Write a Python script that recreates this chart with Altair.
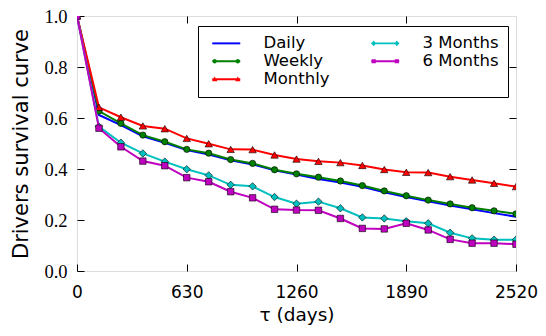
import altair as alt
import pandas as pd

# ---- data ----
days = [0, 126, 252, 378, 504, 630, 756, 882, 1008, 1134, 1260,
        1386, 1512, 1638, 1764, 1890, 2016, 2142, 2268, 2394, 2520]
daily = [1.0, 0.612, 0.572, 0.528, 0.503, 0.474, 0.457, 0.434, 0.418, 0.395, 0.378,
         0.361, 0.347, 0.330, 0.309, 0.290, 0.273, 0.257, 0.242, 0.227, 0.213]
weekly = [1.0, 0.627, 0.579, 0.533, 0.507, 0.477, 0.462, 0.437, 0.422, 0.397, 0.381,
          0.368, 0.353, 0.335, 0.314, 0.295, 0.278, 0.263, 0.248, 0.236, 0.224]
monthly = [1.0, 0.642, 0.603, 0.569, 0.558, 0.520, 0.499, 0.477, 0.476, 0.455, 0.439,
           0.430, 0.425, 0.414, 0.398, 0.387, 0.386, 0.370, 0.357, 0.344, 0.331]
three_months = [1.0, 0.566, 0.503, 0.461, 0.429, 0.399, 0.375, 0.338, 0.332, 0.290, 0.264,
                0.272, 0.246, 0.210, 0.206, 0.195, 0.187, 0.150, 0.128, 0.123, 0.123]
six_months = [1.0, 0.560, 0.487, 0.431, 0.413, 0.366, 0.350, 0.311, 0.287, 0.242, 0.239,
              0.238, 0.206, 0.167, 0.165, 0.187, 0.161, 0.124, 0.109, 0.109, 0.105]

series_names = ["Daily", "Weekly", "Monthly", "3 Months", "6 Months"]
series_y = [daily, weekly, monthly, three_months, six_months]
series_colors = ["#0000ff", "#008000", "#ff0000", "#00bfbf", "#bf00bf"]
series_shapes = [None, "circle", "triangle-up", "diamond", "square"]
series_sizes = [0, 40, 55, 55, 42]

x_ticks = [0, 630, 1260, 1890, 2520]
y_ticks = [0.0, 0.2, 0.4, 0.6, 0.8, 1.0]


# legend glyphs: line segment with small markers at both ends
def bar():
    return "M-1,-0.14L3,-0.14L3,0.14L-1,0.14Z"


def circ(cx, r=0.32):
    return f"M{cx-r},0A{r},{r} 0 1,1 {cx+r},0A{r},{r} 0 1,1 {cx-r},0Z"


def tri(cx):
    return f"M{cx},-0.38L{cx+0.38},0.3L{cx-0.38},0.3Z"


def dia(cx):
    return f"M{cx},-0.42L{cx+0.34},0L{cx},0.42L{cx-0.34},0Z"


def sq(cx):
    return f"M{cx-0.3},-0.3L{cx+0.3},-0.3L{cx+0.3},0.3L{cx-0.3},0.3Z"


ends = (-0.65, 2.65)
glyph = {
    "Daily": bar(),
    "Weekly": bar() + circ(ends[0]) + circ(ends[1]),
    "Monthly": bar() + tri(ends[0]) + tri(ends[1]),
    "3 Months": bar() + dia(ends[0]) + dia(ends[1]),
    "6 Months": bar() + sq(ends[0]) + sq(ends[1]),
}

frames = []
for name, ys in zip(series_names, series_y):
    frames.append(pd.DataFrame({"day": days, "value": ys, "series": name}))
all_df = pd.concat(frames, ignore_index=True)

x_scale = alt.Scale(domain=[0, 2520], nice=False, zero=False)
y_scale = alt.Scale(domain=[0, 1], nice=False, zero=False)

x_axis_bottom = alt.Axis(
    values=x_ticks, format="d", orient="bottom", offset=-7, tickSize=7, domain=False,
    grid=False, labelFont="DejaVu Sans", labelFontSize=17, labelPadding=13,
    labelColor="black", labelFlush=False, labelOverlap=False, tickColor="black",
    tickWidth=1, title="τ (days)", titleFont="DejaVu Sans", titleFontSize=18.5,
    titleFontWeight="normal", titleColor="black", titlePadding=5,
)
y_axis_left = alt.Axis(
    values=y_ticks, format=".1f", orient="left", offset=-7, tickSize=7, domain=False,
    grid=False, labelFont="Liberation Serif", labelFontSize=18.5, labelPadding=10,
    labelColor="black", labelFlush=False, labelOverlap=False, tickColor="black",
    tickWidth=1, title="Drivers survival curve", titleFont="DejaVu Sans",
    titleFontSize=21, titleFontWeight="normal", titleColor="black", titlePadding=12,
)
x_axis_top = alt.Axis(
    values=x_ticks[1:-1], orient="top", offset=-7, tickSize=7, domain=False, grid=False,
    labels=False, tickColor="black", tickWidth=1, title=None,
)
y_axis_right = alt.Axis(
    values=y_ticks[1:-1], orient="right", offset=-7, tickSize=7, domain=False,
    grid=False, labels=False, tickColor="black", tickWidth=1, title=None,
)

layers = []
for i, (name, df) in enumerate(zip(series_names, frames)):
    xa = x_axis_bottom if i == 0 else None
    ya = y_axis_left if i == 0 else None
    line = alt.Chart(df).mark_line(
        color=series_colors[i], strokeWidth=2, clip=True
    ).encode(
        x=alt.X("day:Q", scale=x_scale, axis=xa),
        y=alt.Y("value:Q", scale=y_scale, axis=ya),
        order="day:Q",
    )
    layers.append(line)
    if series_shapes[i]:
        pts = alt.Chart(df).mark_point(
            shape=series_shapes[i], filled=True, fill=series_colors[i], stroke="black",
            strokeWidth=0.6, size=series_sizes[i], opacity=1, clip=True
        ).encode(
            x=alt.X("day:Q", scale=x_scale, axis=None),
            y=alt.Y("value:Q", scale=y_scale, axis=None),
        )
        layers.append(pts)

legend_props = dict(
    title=None, orient="none", legendX=121, legendY=10, columns=2,
    symbolSize=196, symbolOffset=4, labelOffset=36, columnPadding=36,
    rowPadding=1, padding=9, strokeColor="black", fillColor="white",
    labelFont="DejaVu Sans", labelFontSize=16.5, labelColor="black",
    symbolStrokeWidth=0, symbolOpacity=1, labelLimit=0,
)

legend_layer = alt.Chart(all_df).mark_point(filled=True, opacity=0, clip=True).encode(
    x=alt.X("day:Q", scale=x_scale, axis=x_axis_top),
    y=alt.Y("value:Q", scale=y_scale, axis=y_axis_right),
    color=alt.Color(
        "series:N",
        scale=alt.Scale(domain=series_names, range=series_colors),
        legend=alt.Legend(**legend_props),
    ),
    shape=alt.Shape(
        "series:N",
        scale=alt.Scale(domain=series_names, range=[glyph[s] for s in series_names]),
        legend=alt.Legend(**legend_props),
    ),
)
layers.append(legend_layer)

chart = alt.layer(*layers).resolve_axis(
    x="independent", y="independent"
).properties(
    width=439, height=255,
    padding={"left": 69, "top": 8, "right": 22, "bottom": 56},
    autosize=alt.AutoSizeParams(type="none"),
).configure_view(
    stroke="#111", strokeWidth=1.6
).configure(background="white")

chart.save("out.html", embed_options={"renderer": "svg", "actions": False})
